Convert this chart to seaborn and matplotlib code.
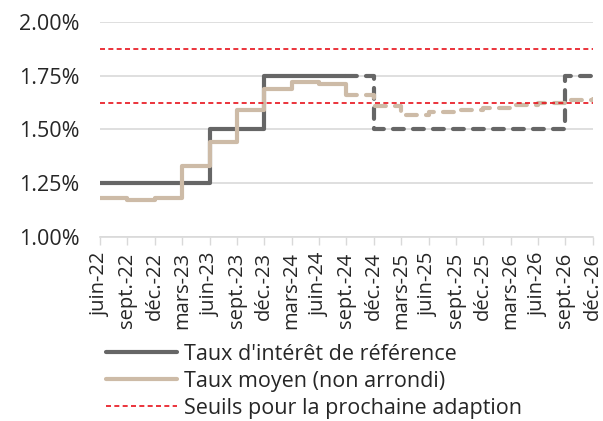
import matplotlib
matplotlib.use("Agg")
import matplotlib.pyplot as plt
import seaborn as sns
import pandas as pd
from matplotlib.lines import Line2D
from matplotlib.ticker import FuncFormatter

# quarterly tick labels
quarters = ["juin-22", "sept.-22", "déc.-22", "mars-23", "juin-23", "sept.-23", "déc.-23",
            "mars-24", "juin-24", "sept.-24", "déc.-24", "mars-25", "juin-25", "sept.-25",
            "déc.-25", "mars-26", "juin-26", "sept.-26", "déc.-26"]

# reference rate (solid = observed, dashed = forecast)
ref_obs = [1.25, 1.25, 1.25, 1.25, 1.50, 1.50, 1.75, 1.75, 1.75, 1.75]
ref_fc = [1.75, 1.50, 1.50, 1.50, 1.50, 1.50, 1.50, 1.50, 1.75, 1.75]

# average rate (not rounded)
avg_obs = [1.18, 1.17, 1.18, 1.33, 1.44, 1.59, 1.69, 1.72, 1.71, 1.66]
avg_fc = [1.66, 1.61, 1.565, 1.58, 1.59, 1.60, 1.615, 1.625, 1.635, 1.64]

# thresholds for next adjustment
thresholds = [1.625, 1.875]

labels = ["Taux d'intérêt de référence", "Taux moyen (non arrondi)",
          "Seuils pour la prochaine adaption"]

dark = "#666666"
beige = "#CDBBA7"
red = "#E8101A"

sns.set_theme(style="white")
plt.rcParams["font.family"] = ["Open Sans", "DejaVu Sans"]
fs = 15.5

fig = plt.figure(figsize=(6.03, 4.21), dpi=100)
ax = fig.add_axes([0.166, 0.437, 0.817, 0.511])

obs_x = list(range(len(ref_obs)))
fc_x = list(range(len(ref_obs) - 1, len(quarters)))

df_obs = pd.DataFrame({"q": obs_x, "ref": ref_obs, "avg": avg_obs})
df_fc = pd.DataFrame({"q": fc_x, "ref": ref_fc, "avg": avg_fc})

lw = 3.0
dash = (0, (2.6, 2.2))

sns.lineplot(data=df_obs, x="q", y="ref", ax=ax, color=dark, lw=lw,
             drawstyle="steps-post", solid_capstyle="butt", zorder=3)
sns.lineplot(data=df_fc, x="q", y="ref", ax=ax, color=dark, lw=lw,
             drawstyle="steps-post", linestyle=dash, dash_capstyle="round", zorder=3)
sns.lineplot(data=df_obs, x="q", y="avg", ax=ax, color=beige, lw=lw,
             drawstyle="steps-post", solid_capstyle="butt", zorder=4)
sns.lineplot(data=df_fc, x="q", y="avg", ax=ax, color=beige, lw=lw,
             drawstyle="steps-post", linestyle=dash, dash_capstyle="round", zorder=4)

for t in thresholds:
    ax.axhline(t, color=red, lw=1.2, linestyle=(0, (3, 2)), zorder=5)

ax.set_xlim(0, len(quarters) - 1)
ax.set_ylim(1.0, 2.0)
ax.set_yticks([1.0, 1.25, 1.5, 1.75, 2.0])
ax.yaxis.set_major_formatter(FuncFormatter(lambda v, p: f"{v:.2f}%"))
ax.set_xticks(range(len(quarters)))
ax.set_xticklabels(quarters, rotation=90, fontsize=14.5)
ax.tick_params(axis="y", labelsize=fs, length=0, pad=15)
ax.tick_params(axis="x", length=6, width=1, color="#D9D9D9", pad=5, bottom=True)
ax.set_xlabel("")
ax.set_ylabel("")

ax.grid(axis="y", color="#D9D9D9", lw=1.2)
ax.grid(axis="x", visible=False)
for s in ["top", "right", "left"]:
    ax.spines[s].set_visible(False)
ax.spines["bottom"].set_color("#D9D9D9")
ax.spines["bottom"].set_linewidth(1.2)

handles = [Line2D([], [], color=dark, lw=lw),
           Line2D([], [], color=beige, lw=lw),
           Line2D([], [], color=red, lw=1.2, linestyle=(0, (3, 2)))]
fig.legend(handles, labels, loc="upper left", bbox_to_anchor=(0.175, 0.184),
           frameon=False, fontsize=fs, handlelength=3.3, handletextpad=0.33,
           labelspacing=0.28, borderpad=0, borderaxespad=0)

fig.savefig("out.png", dpi=100)
